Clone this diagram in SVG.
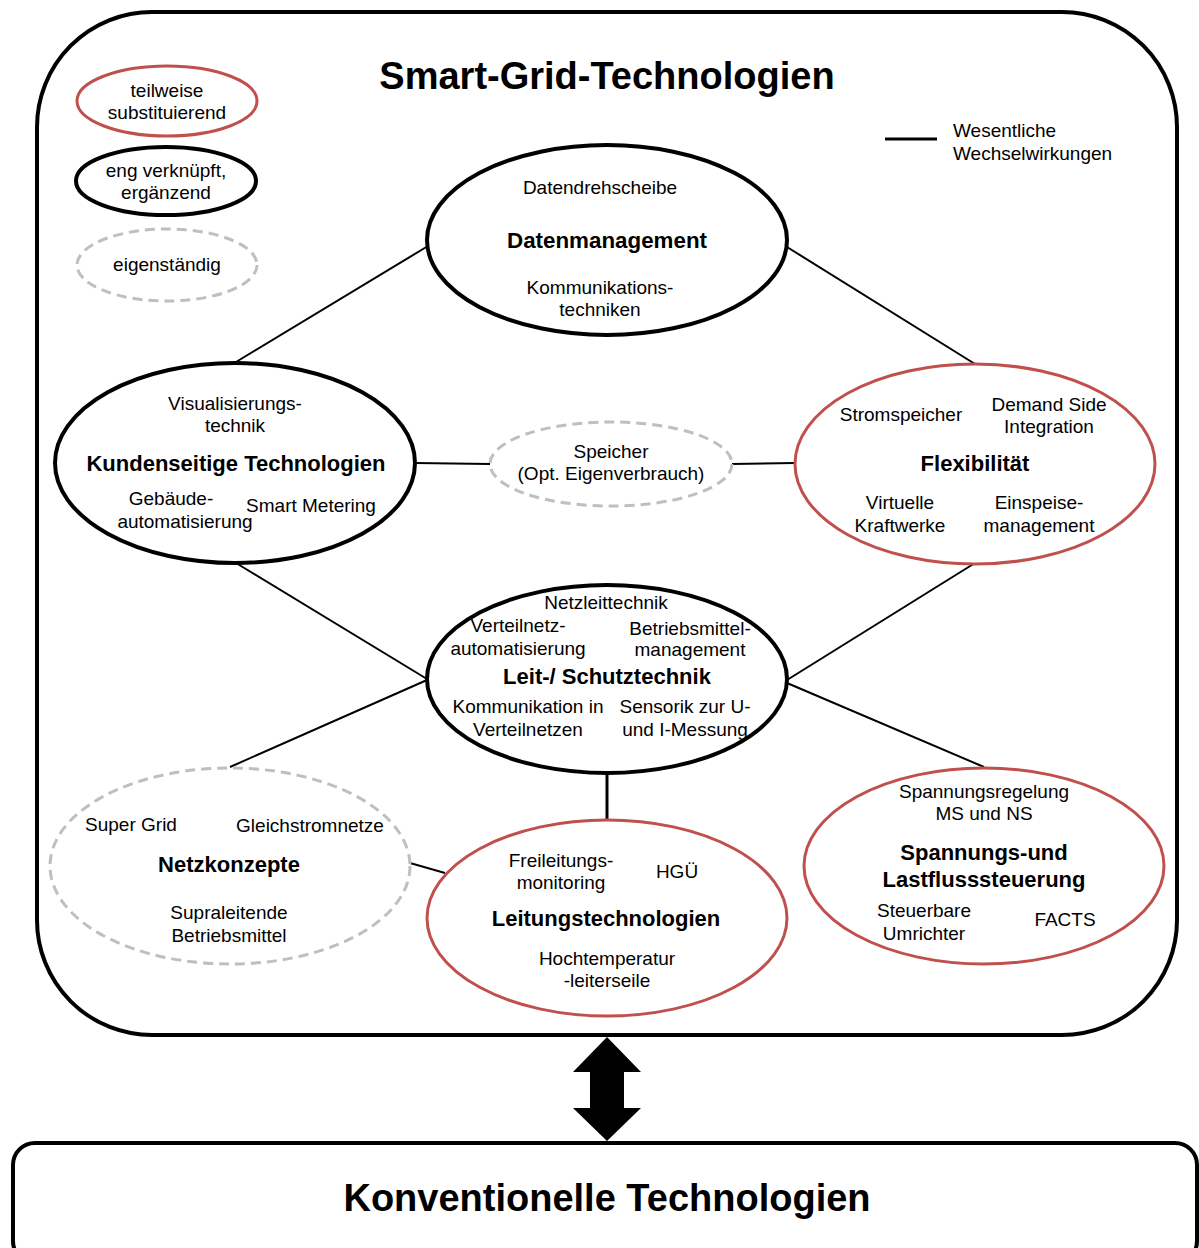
<svg xmlns="http://www.w3.org/2000/svg" width="1199" height="1248" viewBox="0 0 1199 1248">
<style>
text{font-family:"Liberation Sans",Arial,sans-serif;fill:#000;text-anchor:middle}
.t{font-size:19px}
.b{font-size:22px;font-weight:bold}
.h{font-size:38px;font-weight:bold}
.red{fill:#fff;stroke:#C0504D;stroke-width:3}
.blk{fill:#fff;stroke:#000;stroke-width:4}
.dsh{fill:#fff;stroke:#BFBFBF;stroke-width:3;stroke-dasharray:10 6}
.con line{stroke:#000;stroke-width:2}
</style>
<rect width="1199" height="1248" fill="#fff"/>
<g id="frame">
<rect x="37" y="12" width="1140" height="1023" rx="115" ry="115" fill="#fff" stroke="#000" stroke-width="4"/>
<text class="h" x="607" y="89">Smart-Grid-Technologien</text>
</g>
<g id="conventional">
<rect x="13" y="1143" width="1184" height="120" rx="22" ry="22" fill="#fff" stroke="#000" stroke-width="4"/>
<text class="h" x="607" y="1211">Konventionelle Technologien</text>
</g>
<g id="bigarrow">
<polygon points="607,1037 641,1072 624,1072 624,1108 641,1108 607,1141 573,1108 590,1108 590,1072 573,1072" fill="#000"/>
</g>
<g id="legend">
<ellipse class="red" cx="167" cy="101" rx="90" ry="35"/>
<text class="t" x="167" y="97">teilweise</text>
<text class="t" x="167" y="119">substituierend</text>
<ellipse class="blk" cx="166" cy="181" rx="90" ry="34"/>
<text class="t" x="166" y="177">eng verknüpft,</text>
<text class="t" x="166" y="199">ergänzend</text>
<ellipse class="dsh" cx="167" cy="265" rx="90" ry="36"/>
<text class="t" x="167" y="271">eigenständig</text>
<line x1="885" y1="139" x2="937" y2="139" stroke="#000" stroke-width="3"/>
<text class="t" x="953" y="137" style="text-anchor:start">Wesentliche</text>
<text class="t" x="953" y="160" style="text-anchor:start">Wechselwirkungen</text>
</g>
<g id="connectors" class="con">
<line x1="428" y1="246" x2="236" y2="362"/>
<line x1="787" y1="247" x2="975" y2="364"/>
<line x1="415" y1="463" x2="490" y2="464"/>
<line x1="732" y1="464" x2="795" y2="463"/>
<line x1="236" y1="563" x2="427" y2="679"/>
<line x1="975" y1="563" x2="787" y2="680"/>
<line x1="427" y1="680" x2="230" y2="767"/>
<line x1="787" y1="683" x2="984" y2="767"/>
<line x1="607" y1="773" x2="607" y2="820" style="stroke-width:3"/>
<line x1="410" y1="863" x2="445" y2="873"/>
</g>
<g id="datenmanagement">
<ellipse class="blk" cx="607" cy="240" rx="180" ry="95"/>
<text class="t" x="600" y="194">Datendrehscheibe</text>
<text class="b" x="607" y="248" textLength="200" lengthAdjust="spacingAndGlyphs">Datenmanagement</text>
<text class="t" x="600" y="294">Kommunikations-</text>
<text class="t" x="600" y="316">techniken</text>
</g>
<g id="kundenseitige">
<ellipse class="blk" cx="235" cy="463" rx="180" ry="100"/>
<text class="t" x="235" y="410">Visualisierungs-</text>
<text class="t" x="235" y="432">technik</text>
<text class="b" x="236" y="471">Kundenseitige Technologien</text>
<text class="t" x="171" y="505">Gebäude-</text>
<text class="t" x="185" y="528">automatisierung</text>
<text class="t" x="311" y="512">Smart Metering</text>
</g>
<g id="speicher">
<ellipse class="dsh" cx="611" cy="464" rx="121" ry="42"/>
<text class="t" x="611" y="458">Speicher</text>
<text class="t" x="611" y="480">(Opt. Eigenverbrauch)</text>
</g>
<g id="flexibilitaet">
<ellipse class="red" cx="975" cy="464" rx="180" ry="100"/>
<text class="t" x="901" y="421">Stromspeicher</text>
<text class="t" x="1049" y="411">Demand Side</text>
<text class="t" x="1049" y="433">Integration</text>
<text class="b" x="975" y="471">Flexibilität</text>
<text class="t" x="900" y="509">Virtuelle</text>
<text class="t" x="900" y="532">Kraftwerke</text>
<text class="t" x="1039" y="509">Einspeise-</text>
<text class="t" x="1039" y="532">management</text>
</g>
<g id="leitschutz">
<ellipse class="blk" cx="607" cy="679" rx="180" ry="94"/>
<text class="t" x="606" y="609">Netzleittechnik</text>
<text class="t" x="518" y="632">Verteilnetz-</text>
<text class="t" x="518" y="655">automatisierung</text>
<text class="t" x="690" y="635">Betriebsmittel-</text>
<text class="t" x="690" y="656">management</text>
<text class="b" x="607" y="684">Leit-/ Schutztechnik</text>
<text class="t" x="528" y="713">Kommunikation in</text>
<text class="t" x="528" y="736">Verteilnetzen</text>
<text class="t" x="685" y="713">Sensorik zur U-</text>
<text class="t" x="685" y="736">und I-Messung</text>
</g>
<g id="netzkonzepte">
<ellipse class="dsh" cx="230" cy="866" rx="180" ry="98"/>
<text class="t" x="131" y="831">Super Grid</text>
<text class="t" x="310" y="832">Gleichstromnetze</text>
<text class="b" x="229" y="872">Netzkonzepte</text>
<text class="t" x="229" y="919">Supraleitende</text>
<text class="t" x="229" y="942">Betriebsmittel</text>
</g>
<g id="leitungstechnologien">
<ellipse class="red" cx="607" cy="918" rx="180" ry="98"/>
<text class="t" x="561" y="867">Freileitungs-</text>
<text class="t" x="561" y="889">monitoring</text>
<text class="t" x="677" y="878">HGÜ</text>
<text class="b" x="606" y="926">Leitungstechnologien</text>
<text class="t" x="607" y="965">Hochtemperatur</text>
<text class="t" x="607" y="987">-leiterseile</text>
</g>
<g id="spannung">
<ellipse class="red" cx="984" cy="866" rx="180" ry="98"/>
<text class="t" x="984" y="798">Spannungsregelung</text>
<text class="t" x="984" y="820">MS und NS</text>
<text class="b" x="984" y="860">Spannungs-und</text>
<text class="b" x="984" y="887">Lastflusssteuerung</text>
<text class="t" x="924" y="917">Steuerbare</text>
<text class="t" x="924" y="940">Umrichter</text>
<text class="t" x="1065" y="926">FACTS</text>
</g>
</svg>
